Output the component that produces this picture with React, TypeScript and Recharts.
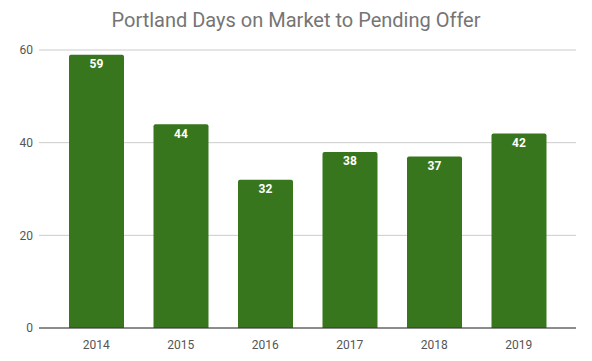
import { BarChart, Bar, XAxis, YAxis, CartesianGrid, LabelList } from "recharts"

const YEARS = ["2014", "2015", "2016", "2017", "2018", "2019"]
const DAYS = [59, 44, 32, 38, 37, 42]
const Y_TICKS = [0, 20, 40, 60]

const FONT = "Roboto, 'Noto Sans', sans-serif"

export default function App() {
  const data = YEARS.map((year, i) => ({ year, days: DAYS[i] }))

  return (
    <div
      style={{
        position: "absolute",
        left: 0,
        top: 0,
        width: 592,
        height: 361,
        background: "#fff",
        fontFamily: FONT,
      }}
    >
      <div
        style={{
          position: "absolute",
          top: 8,
          left: 0,
          width: 592,
          textAlign: "center",
          fontSize: 20,
          color: "#757575",
        }}
      >
        Portland Days on Market to Pending Offer
      </div>
      <BarChart
        width={592}
        height={361}
        data={data}
        margin={{ top: 50, right: 16, bottom: 3, left: 0 }}
      >
        <CartesianGrid vertical={false} stroke="#cccccc" />
        <XAxis
          dataKey="year"
          height={30}
          padding={{ left: 15, right: 15 }}
          tickLine={false}
          axisLine={{ stroke: "#333333" }}
          tick={{ fill: "#555555", fontSize: 12, fontFamily: FONT }}
          tickMargin={6}
        />
        <YAxis
          width={39}
          domain={[0, 60]}
          ticks={Y_TICKS}
          axisLine={false}
          tickLine={false}
          tickSize={0}
          tickMargin={6}
          tick={{ fill: "#555555", fontSize: 12, fontFamily: FONT }}
        />
        <Bar
          dataKey="days"
          fill="#38761d"
          barSize={55}
          radius={[2, 2, 0, 0]}
          isAnimationActive={false}
        >
          <LabelList
            dataKey="days"
            position="insideTop"
            offset={5}
            fill="#ffffff"
            fontSize={12}
            fontWeight="bold"
            fontFamily={FONT}
          />
        </Bar>
      </BarChart>
    </div>
  )
}
